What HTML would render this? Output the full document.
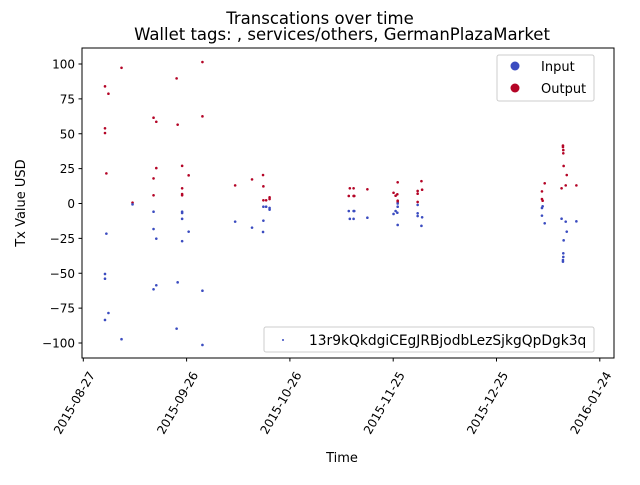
<!DOCTYPE html>
<html><head><meta charset="utf-8"><style>
body{margin:0;background:#fff;}
svg text{font-family:"DejaVu Sans","Liberation Sans",sans-serif;fill:#000;}
</style></head><body>
<svg id="chart" width="640" height="480" viewBox="0 0 640 480" xmlns="http://www.w3.org/2000/svg">
<rect width="640" height="480" fill="#fff"/>
<text x="320" y="24" font-size="16.5" text-anchor="middle">Transcations over time</text>
<text x="342" y="40" font-size="16.5" text-anchor="middle">Wallet tags: , services/others, GermanPlazaMarket</text>
<g id="plot"></g>
<rect x="82" y="48" width="532" height="310" fill="none" stroke="#000" stroke-width="1"/>
<text transform="translate(25,203) rotate(-90)" font-size="13" text-anchor="middle">Tx Value USD</text>
<text x="342" y="462" font-size="13" text-anchor="middle">Time</text>
<g>
<rect x="497" y="55" width="97" height="46" rx="2" fill="#fff" stroke="#ccc"/>
<circle cx="515" cy="66" r="4.5" fill="#3b4cc0"/>
<text x="541" y="71" font-size="13">Input</text>
<circle cx="515" cy="88" r="4.5" fill="#b40426"/>
<text x="541" y="93" font-size="13">Output</text>
</g>
<g>
<rect x="264" y="327" width="330" height="25" rx="2" fill="#fff" stroke="#ccc"/>
<circle cx="283" cy="340" r="1" fill="#3b4cc0"/>
<text x="309" y="345" font-size="13.8">13r9kQkdgiCEgJRBjodbLezSjkgQpDgk3q</text>
</g>
</svg>
<script>
const xTickLabels=["2015-08-27","2015-09-26","2015-10-26","2015-11-25","2015-12-25","2016-01-24"];
const xTickDays=[0,30,60,90,120,150];
const yTicks=[-100,-75,-50,-25,0,25,50,75,100];
const outDays=[11.1,6.3,7.3,6.3,6.3,6.7,14.3,20.4,21.2,21.2,20.4,20.4,27.1,27.4,28.7,28.7,28.7,28.7,30.6,34.6,34.6,44.1,49,52.2,52.3,52.3,53.1,54.1,54.1,77.4,78.5,77.1,78.5,78.7,82.5,91.3,90.1,90.7,91.2,91.3,91.3,97.1,97.1,97.1,98.2,98.4,139.3,139.3,139.4,139.4,139.5,140.4,140.1,138.9,143.2,134,133.2,133.2,133.4];
const outVals=[97.3,84,78.7,53.9,50.5,21.6,0.6,61.5,58.6,25.4,18,5.9,89.7,56.5,27,10.9,6.8,5.9,20.2,101.4,62.5,13,17.3,20.4,12.3,2.3,2.3,4.4,3.2,10.9,10.9,5.4,5.4,5.4,10.2,15.2,7.7,5.6,6.6,2,1.1,9,7,1.1,16,9.9,41.5,40.5,38.3,36,26.9,20.4,13,10.9,13,14.5,8.7,3.2,2];
const inDays=outDays;
const inVals=[-97.3,-83.5,-78.5,-50.5,-53.9,-21.6,-0.6,-61.5,-58.6,-25.2,-18.3,-5.9,-89.7,-56.5,-27,-11,-6.8,-5.9,-20.2,-101.4,-62.5,-13,-17.3,-20.4,-12.3,-2.3,-2.3,-4.4,-3.2,-11,-11,-5.4,-5.4,-5.4,-10.2,-15.4,-7.5,-5.4,-6.6,0,-2.3,-1,-7,-9,-16,-9.9,-41.7,-40.5,-38.3,-35.7,-26.4,-20.2,-13,-10.9,-12.8,-14.2,-8.7,-3.2,-2];
const NS="http://www.w3.org/2000/svg";
const plot=document.getElementById('plot');
const xs=d=>83.3+d*103.3/30;
const ys=v=>203.5-v*279/200;
function mk(t,a){const e=document.createElementNS(NS,t);for(const k in a)e.setAttribute(k,a[k]);plot.appendChild(e);return e;}
yTicks.forEach(v=>{
  const l=mk('line',{x1:78.5,x2:82,y1:ys(v),y2:ys(v),stroke:'#000'});
  
  
  const t=mk('text',{x:75,y:ys(v)+4.5,'font-size':12,'text-anchor':'end'});
  
  
  t.textContent=v===0?'0':(v<0?'\u2212'+(-v):String(v));
});
xTickDays.forEach((d,i)=>{
  const x=xs(d);
  const l=mk('line',{x1:x,x2:x,y1:358,y2:361.5,stroke:'#000'});
  
  
  const t=mk('text',{transform:`translate(${x+9},${373}) rotate(-60)`,'font-size':12,'text-anchor':'end','dominant-baseline':'middle'});
  
  
  t.textContent=xTickLabels[i];
});
outDays.forEach((d,i)=>{
  const c=mk('circle',{cx:xs(d),cy:ys(outVals[i]),r:1.3,fill:'#b40426'});
  
  
});
inDays.forEach((d,i)=>{
  const c=mk('circle',{cx:xs(d),cy:ys(inVals[i]),r:1.3,fill:'#3b4cc0'});
  
  
});
</script>
</body></html>
